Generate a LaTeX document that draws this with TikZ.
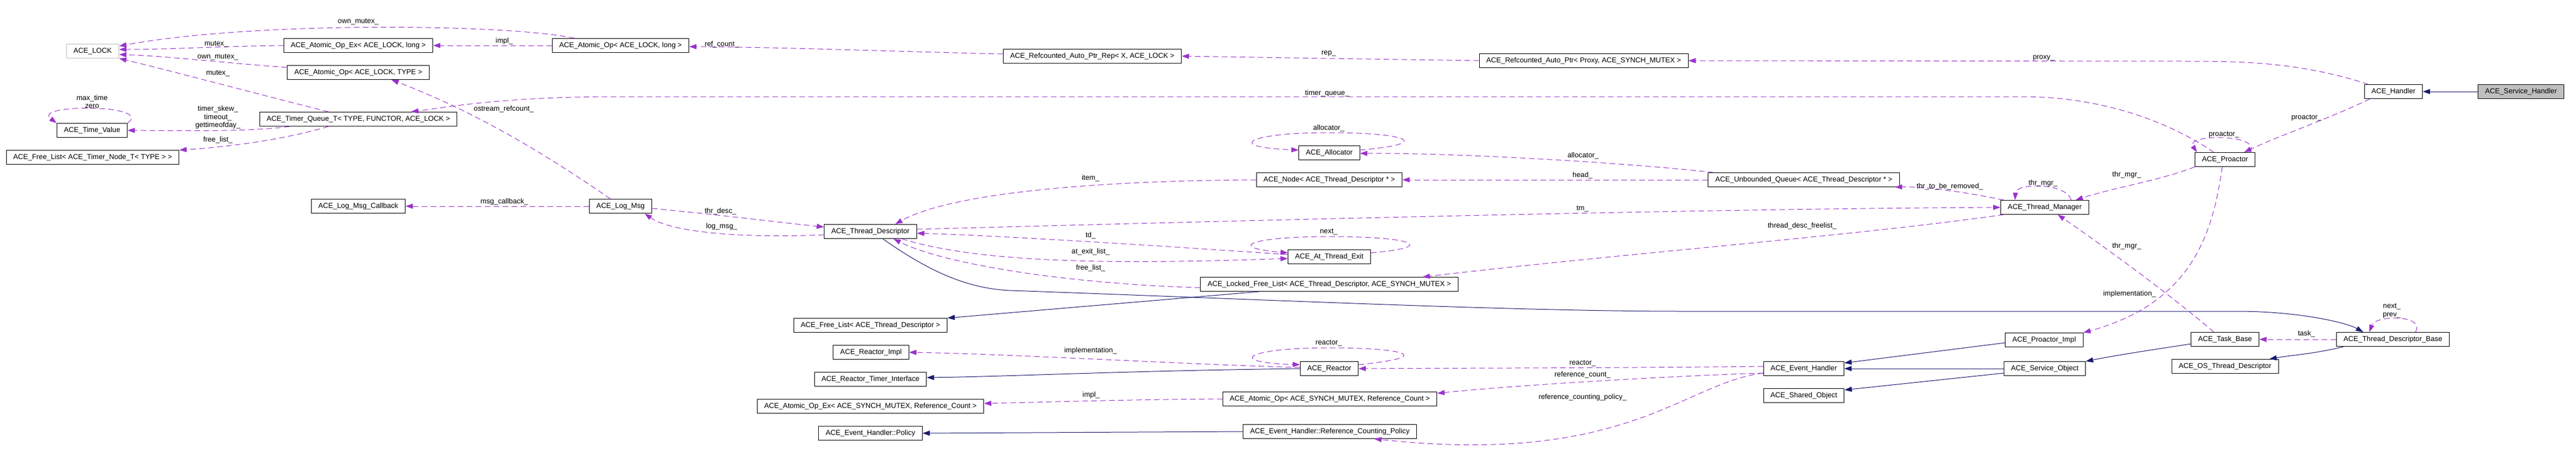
\documentclass[tikz,border=0pt]{standalone}
\usepackage{fontspec}
\setmainfont{Liberation Sans}
\usepackage{tikz}
\usetikzlibrary{arrows.meta}

\definecolor{usecol}{HTML}{9A32CD}
\definecolor{inhcol}{HTML}{191970}
\definecolor{greycol}{HTML}{BFBFBF}

\begin{document}
\begin{tikzpicture}[x=1pt, y=-1pt,
	cls/.style={draw=black, line width=1pt, font=\fontsize{12.8}{15}\selectfont,
		inner xsep=12.5pt, inner ysep=0pt, minimum height=25pt},
	undoc/.style={cls, draw=greycol},
	focus/.style={cls, fill=greycol},
	lbl/.style={font=\fontsize{12.8}{14.5}\selectfont, inner sep=0pt, align=center},
	usage/.style={draw=usecol, line width=1pt, dash pattern=on 10pt off 6pt,
		-{Triangle[length=13pt,width=9pt]}},
	inherit/.style={draw=inhcol, line width=1pt, -{Triangle[length=13pt,width=9pt]}},
]

% parameters %{{{2

	\def\picw{4587}
	\def\pich{823}

	\useasboundingbox (0,0) rectangle (\picw,\pich);

% classes %{{{2

	\node[undoc] (lock) at (165,91) {ACE\_LOCK};
	\node[cls] (aopexlock) at (638,81) {ACE\_Atomic\_Op\_Ex< ACE\_LOCK, long >};
	\node[cls] (aoplocktype) at (638,129) {ACE\_Atomic\_Op< ACE\_LOCK, TYPE >};
	\node[cls] (timerq) at (638,212) {ACE\_Timer\_Queue\_T< TYPE, FUNCTOR, ACE\_LOCK >};
	\node[cls] (timeval) at (164,232) {ACE\_Time\_Value};
	\node[cls] (freetimer) at (165,280) {ACE\_Free\_List< ACE\_Timer\_Node\_T< TYPE > >};
	\node[cls] (logcb) at (638,367) {ACE\_Log\_Msg\_Callback};

	\node[cls] (aoplocklong) at (1105,81) {ACE\_Atomic\_Op< ACE\_LOCK, long >};
	\node[cls] (logmsg) at (1105,367) {ACE\_Log\_Msg};

	\node[cls] (thrdesc) at (1550,412) {ACE\_Thread\_Descriptor};
	\node[cls] (freethr) at (1550,579) {ACE\_Free\_List< ACE\_Thread\_Descriptor >};
	\node[cls] (reactimpl) at (1551,627) {ACE\_Reactor\_Impl};
	\node[cls] (reacttimer) at (1550,675) {ACE\_Reactor\_Timer\_Interface};
	\node[cls] (aopexmutex) at (1550,723) {ACE\_Atomic\_Op\_Ex< ACE\_SYNCH\_MUTEX, Reference\_Count >};
	\node[cls] (policy) at (1550,771) {ACE\_Event\_Handler::Policy};

	\node[cls] (autoptrrep) at (1945,100) {ACE\_Refcounted\_Auto\_Ptr\_Rep< X, ACE\_LOCK >};

	\node[cls] (allocator) at (2367,272) {ACE\_Allocator};
	\node[cls] (tdnode) at (2367,320) {ACE\_Node< ACE\_Thread\_Descriptor * >};
	\node[cls] (atexit) at (2367,457) {ACE\_At\_Thread\_Exit};
	\node[cls] (lockedfree) at (2367,506) {ACE\_Locked\_Free\_List< ACE\_Thread\_Descriptor, ACE\_SYNCH\_MUTEX >};
	\node[cls] (reactor) at (2367,656) {ACE\_Reactor};
	\node[cls] (aopmutex) at (2368,710) {ACE\_Atomic\_Op< ACE\_SYNCH\_MUTEX, Reference\_Count >};
	\node[cls] (refpolicy) at (2368,768) {ACE\_Event\_Handler::Reference\_Counting\_Policy};

	\node[cls] (autoptr) at (2820,108) {ACE\_Refcounted\_Auto\_Ptr< Proxy, ACE\_SYNCH\_MUTEX >};

	\node[cls] (tdqueue) at (3212,320) {ACE\_Unbounded\_Queue< ACE\_Thread\_Descriptor * >};
	\node[cls] (evhandler) at (3212,656) {ACE\_Event\_Handler};
	\node[cls] (sharedobj) at (3212,704) {ACE\_Shared\_Object};

	\node[cls] (thrmgr) at (3641,369) {ACE\_Thread\_Manager};
	\node[cls] (proimpl) at (3640,605) {ACE\_Proactor\_Impl};
	\node[cls] (svcobj) at (3641,656) {ACE\_Service\_Object};

	\node[cls] (proactor) at (3962,284) {ACE\_Proactor};
	\node[cls] (taskbase) at (3962,604) {ACE\_Task\_Base};
	\node[cls] (osthrdesc) at (3962,652) {ACE\_OS\_Thread\_Descriptor};

	\node[cls] (handler) at (4262,163) {ACE\_Handler};
	\node[cls] (thrdescbase) at (4261,604) {ACE\_Thread\_Descriptor\_Base};
	\node[focus] (svchandler) at (4489,163) {ACE\_Service\_Handler};

% inheritance %{{{2

	\draw[inherit] (svchandler.west) -- (handler.east);
	\draw[inherit] ([yshift=-5pt]proimpl.west) -- ([yshift=10pt]evhandler.east);
	\draw[inherit] (svcobj.west) -- (evhandler.east);
	\draw[inherit] ([yshift=-8pt]svcobj.west) -- ([yshift=10pt]sharedobj.east);
	\draw[inherit] ([yshift=-8pt]taskbase.west) .. controls (3850,620) and (3780,630) .. (svcobj.north east);
	\draw[inherit] ([xshift=-88pt]thrdescbase.south) .. controls (4120,630) and (4080,632) .. ([xshift=79pt]osthrdesc.north);
	\draw[inherit] ([xshift=22pt]thrdesc.south) .. controls (1650,480) and (1720,514) .. (1800,517)
		.. controls (2300,535) and (2700,554) .. (3000,554) -- (3990,554)
		.. controls (4100,555) and (4180,575) .. ([xshift=-53pt]thrdescbase.north);
	\draw[inherit] ([xshift=-125pt]lockedfree.south) -- (freethr.north east);
	\draw[inherit] (reactor.west) .. controls (2000,660) and (1800,670) .. ([yshift=3pt]reacttimer.east);
	\draw[inherit] (refpolicy.west) -- (policy.east);

% usage, left %{{{2

	\draw[usage] ([xshift=40pt]aoplocklong.north west) .. controls (900,42) and (450,38) .. ([yshift=9pt]lock.east);
	\draw[usage] (aopexlock.west) .. controls (400,82) and (300,88) .. ([yshift=3pt]lock.east);
	\draw[usage] ([yshift=9pt]aoplocktype.west) .. controls (400,112) and (300,100) .. ([yshift=-6pt]lock.east);
	\draw[usage] ([xshift=-53pt]timerq.north) .. controls (450,165) and (300,125) .. (lock.south east);
	\draw[usage] (timeval.north east) .. controls (275,185) and (55,185) .. (timeval.north west);
	\draw[usage] ([xshift=-122pt]timerq.south) .. controls (450,234) and (350,233) .. (timeval.east);
	\draw[usage] ([xshift=-53pt]timerq.south) .. controls (500,250) and (400,262) .. (freetimer.north east);
	\draw[usage] (aoplocklong.west) -- (aopexlock.east);
	\draw[usage] ([yshift=4pt]autoptrrep.west) .. controls (1600,92) and (1400,84) .. ([yshift=-2pt]aoplocklong.east);
	\draw[usage] ([xshift=-18pt]logmsg.north) .. controls (980,280) and (850,200) .. ([xshift=59pt]aoplocktype.south);
	\draw[usage] (logmsg.west) -- (logcb.east);
	\draw[usage] ([yshift=-4pt]logmsg.east) .. controls (1280,382) and (1380,395) .. ([yshift=8pt]thrdesc.west);
	\draw[usage] ([yshift=-6pt]thrdesc.west) .. controls (1300,425) and (1190,410) .. ([xshift=43pt]logmsg.south);

% usage, middle %{{{2

	\draw[usage] (tdnode.west) .. controls (1900,322) and (1680,350) .. ([xshift=44pt]thrdesc.north);
	\draw[usage] ([yshift=4pt]thrdesc.east) .. controls (2200,393) and (3000,372) .. (thrmgr.west);
	\draw[usage] ([yshift=4pt]atexit.west) .. controls (2100,440) and (1800,420) .. ([yshift=-3pt]thrdesc.east);
	\draw[usage] ([xshift=56pt]thrdesc.south) .. controls (1750,470) and (2000,470) .. ([yshift=-3pt]atexit.west);
	\draw[usage] ([yshift=7pt]atexit.east) .. controls (2560,440) and (2520,421) .. (2367,421)
		.. controls (2230,421) and (2180,440) .. ([yshift=7pt]atexit.west);
	\draw[usage] ([yshift=-6pt]lockedfree.west) .. controls (1900,505) and (1680,470) .. ([xshift=41pt]thrdesc.south);
	\draw[usage] ([xshift=-73pt]thrmgr.south) .. controls (3300,420) and (2900,450) .. ([xshift=166pt]lockedfree.north);
	\draw[usage] ([yshift=5pt]allocator.east) .. controls (2560,255) and (2500,236) .. (2367,236)
		.. controls (2220,236) and (2180,262) .. ([yshift=5pt]allocator.west);
	\draw[usage] ([xshift=10pt]tdqueue.north west) .. controls (2900,290) and (2600,272) .. ([yshift=-1pt]allocator.east);
	\draw[usage] (tdqueue.west) -- (tdnode.east);
	\draw[usage] (autoptr.west) -- (autoptrrep.east);

	\draw[usage] ([yshift=7pt]reactor.east) .. controls (2560,635) and (2500,619) .. (2367,619)
		.. controls (2220,619) and (2180,645) .. ([yshift=7pt]reactor.west);
	\draw[usage] ([yshift=2pt]reactor.west) .. controls (2100,648) and (1800,630) .. (reactimpl.east);
	\draw[usage] ([yshift=4pt]evhandler.west) .. controls (2900,655) and (2600,655) .. (reactor.east);
	\draw[usage] ([yshift=-8pt]evhandler.west) .. controls (3000,668) and (2700,685) .. ([yshift=10pt]aopmutex.east);
	\draw[usage] ([yshift=-8pt]evhandler.west) .. controls (3000,680) and (2900,830) .. ([xshift=79pt]refpolicy.south);
	\draw[usage] (aopmutex.west) .. controls (2000,711) and (1850,716) .. ([yshift=5pt]aopexmutex.east);

% usage, right %{{{2

	\draw[usage] ([xshift=-73pt]thrmgr.north) .. controls (3480,338) and (3420,332) .. ([xshift=162pt]tdqueue.south);
	\draw[usage] ([xshift=47pt]thrmgr.north) .. controls (3680,325) and (3590,325) .. ([xshift=-53pt]thrmgr.north);
	\draw[usage] (proactor.south west) .. controls (3850,320) and (3760,335) .. ([xshift=55pt]thrmgr.north);
	\draw[usage] ([xshift=-20pt]taskbase.north) .. controls (3860,520) and (3720,420) .. ([xshift=23pt]thrmgr.south);
	\draw[usage] ([xshift=-5pt]proactor.south) .. controls (3940,420) and (3900,540) .. (proimpl.north east);
	\draw[usage] ([xshift=-42pt]handler.south) .. controls (4150,210) and (4050,245) .. ([xshift=34pt]proactor.north);
	\draw[usage] ([xshift=44pt]proactor.north) .. controls (4030,238) and (3890,238) .. ([xshift=-50pt]proactor.north);
	\draw[usage] ([xshift=-20pt]proactor.north) .. controls (3860,215) and (3740,172) .. (3600,172) -- (1100,172)
		.. controls (900,172) and (800,190) .. ([xshift=94pt]timerq.north);
	\draw[usage] ([xshift=-45pt]handler.north) .. controls (4100,112) and (4000,109) .. (3900,109) -- (autoptr.east);
	\draw[usage] (thrdescbase.west) -- (taskbase.east);
	\draw[usage] ([xshift=40pt]thrdescbase.north) .. controls (4320,560) and (4230,560) .. ([xshift=-42pt]thrdescbase.north);

% member labels %{{{2

	\foreach \nm/\x/\y/\txt in {
		l-ownmutex-a/638/39/{own\_mutex\_},
		l-mutex-a/385/79/{mutex\_},
		l-ownmutex-b/388/102/{own\_mutex\_},
		l-mutex-b/388/131/{mutex\_},
		l-maxtime/164/181/{max\_time\\zero},
		l-timerskew/388/209/{timer\_skew\_\\timeout\_\\gettimeofday\_},
		l-freelist-a/388/249/{free\_list\_},
		l-impl-a/898/73/{impl\_},
		l-refcount-a/1285/79/{ref\_count\_},
		l-ostream/897/194/{ostream\_refcount\_},
		l-timerqueue/2363/166/{timer\_queue\_},
		l-msgcb/898/359/{msg\_callback\_},
		l-thrdesc/1283/376/{thr\_desc\_},
		l-logmsg/1285/403/{log\_msg\_},
		l-item/1942/317/{item\_},
		l-tm/2818/372/{tm\_},
		l-td/1942/419/{td\_},
		l-atexit/1942/448/{at\_exit\_list\_},
		l-next-a/2366/413/{next\_},
		l-freelist-b/1942/477/{free\_list\_},
		l-descfree/3209/402/{thread\_desc\_freelist\_},
		l-alloc-a/2366/228/{allocator\_},
		l-alloc-b/2819/277/{allocator\_},
		l-head/2818/312/{head\_},
		l-removed/3472/332/{thr\_to\_be\_removed\_},
		l-thrmgr-a/3638/326/{thr\_mgr\_},
		l-thrmgr-b/3787/311/{thr\_mgr\_},
		l-thrmgr-c/3787/438/{thr\_mgr\_},
		l-implement-a/3792/523/{implementation\_},
		l-proactor-a/4107/210/{proactor\_},
		l-proactor-b/3960/240/{proactor\_},
		l-proxy/3639/103/{proxy\_},
		l-rep/2366/95/{rep\_},
		l-reactor-a/2366/611/{reactor\_},
		l-implement-b/1942/624/{implementation\_},
		l-reactor-b/2818/647/{reactor\_},
		l-refcount-b/2818/667/{reference\_count\_},
		l-policy/2818/707/{reference\_counting\_policy\_},
		l-impl-b/1943/703/{impl\_},
		l-task/4107/594/{task\_},
		l-nextprev/4259/553/{next\_\\prev\_}} {
		\node[lbl] (\nm) at (\x,\y) {\txt};
	}

% closing %{{{2

\end{tikzpicture}
\end{document}
